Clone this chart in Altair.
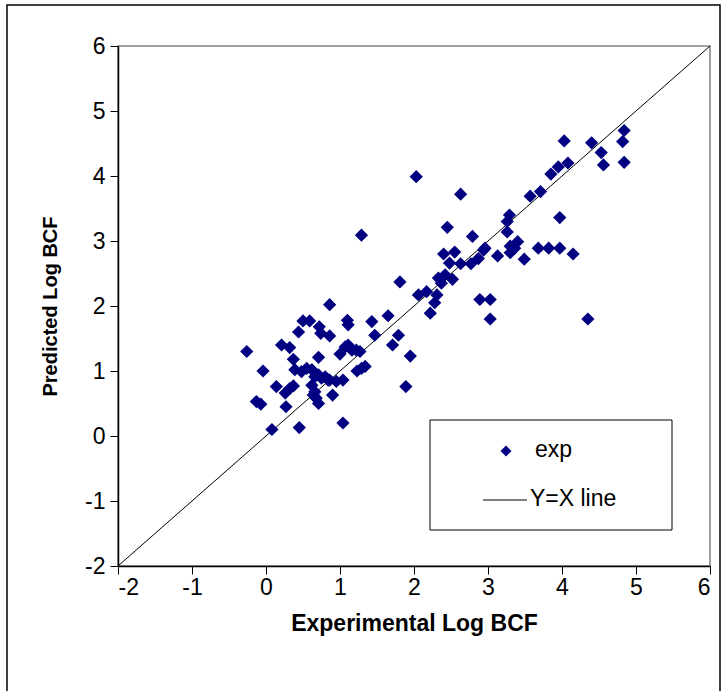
import altair as alt
import pandas as pd

# Experimental vs predicted log BCF
exp_x = [-0.26, -0.04, -0.13, -0.07, 0.08, 0.14, 0.21, 0.32, 0.26, 0.32, 0.37, 0.27, 0.37, 0.44,
         0.45, 0.50, 0.59, 0.39, 0.48, 0.55, 0.62, 0.66, 0.71, 0.75, 0.80, 0.84, 0.86, 0.62,
         0.66, 0.64, 0.68, 0.71, 0.71, 0.72, 0.74, 0.86, 0.86, 0.90, 0.95, 1.04, 1.00, 1.07,
         1.11, 1.16, 1.22, 1.27, 1.04, 1.10, 1.11, 1.23, 1.29, 1.34, 1.43, 1.47, 1.65, 1.71,
         1.79, 1.89, 1.95, 1.81, 2.06, 2.17, 2.22, 1.29,
         2.03, 2.63, 2.45, 2.79, 2.40, 2.55, 2.48, 2.63, 2.33, 2.42, 2.37, 2.52, 2.31, 2.28,
         2.77, 2.87, 2.94, 2.96, 2.89, 3.03, 3.03, 3.13, 3.26, 3.26, 3.29, 3.30, 3.30, 3.36,
         3.40, 3.49, 3.57, 3.71, 3.68, 3.82, 3.97, 4.15, 3.97, 3.85, 3.95, 4.08, 4.03, 4.40,
         4.53, 4.56, 4.84, 4.82, 4.84, 4.35]
pred_y = [1.30, 1.00, 0.53, 0.49, 0.10, 0.76, 1.40, 1.36, 0.66, 0.73, 0.77, 0.45, 1.18, 1.60,
          0.13, 1.77, 1.77, 1.02, 0.99, 1.04, 1.02, 0.91, 0.94, 0.89, 0.91, 0.86, 0.86, 0.78,
          0.68, 0.63, 0.58, 0.50, 1.21, 1.68, 1.58, 1.54, 2.02, 0.63, 0.84, 0.86, 1.26, 1.37,
          1.40, 1.32, 1.32, 1.30, 0.20, 1.78, 1.71, 1.00, 1.04, 1.07, 1.76, 1.55, 1.85, 1.40,
          1.55, 0.76, 1.23, 2.37, 2.17, 2.22, 1.89, 3.09,
          3.99, 3.72, 3.21, 3.07, 2.80, 2.83, 2.66, 2.65, 2.43, 2.48, 2.35, 2.41, 2.17, 2.05,
          2.65, 2.73, 2.86, 2.89, 2.10, 2.10, 1.80, 2.77, 3.14, 3.30, 3.40, 2.92, 2.82, 2.89,
          2.99, 2.72, 3.69, 3.76, 2.89, 2.89, 2.89, 2.80, 3.36, 4.03, 4.14, 4.20, 4.54, 4.51,
          4.36, 4.17, 4.70, 4.53, 4.21, 1.80]

line_x = [-2, 6]
line_y = [-2, 6]
axis_ticks = [-2, -1, 0, 1, 2, 3, 4, 5, 6]
legend_labels = ["exp", "Y=X line"]
x_title = "Experimental Log BCF"
y_title = "Predicted Log BCF"

FONT = "Liberation Sans"
NAVY = "#000080"

pts = pd.DataFrame({"x": exp_x, "y": pred_y})
line_df = pd.DataFrame({"x": line_x, "y": line_y})
dummy = pd.DataFrame({"a": [0]})

xscale = alt.Scale(domain=[-2, 6], nice=False, zero=False)
yscale = alt.Scale(domain=[-2, 6], nice=False, zero=False)

x_axis = alt.Axis(values=axis_ticks, title=x_title, grid=False, tickSize=8,
                  labelPadding=2, titlePadding=13, domainColor="#000000",
                  tickColor="#000000", domainWidth=1.5, tickWidth=1,
                  labelExpr="datum.value + ''", titleFontSize=23)
y_axis = alt.Axis(values=axis_ticks, title=y_title, grid=False, tickSize=8,
                  labelPadding=5, titlePadding=24, domainColor="#000000",
                  tickColor="#000000", domainWidth=1.5, tickWidth=1,
                  labelExpr="datum.value + ''", titleFontSize=20)

diag = alt.Chart(line_df).mark_line(color="#000000", strokeWidth=1, clip=True).encode(
    x=alt.X("x:Q", scale=xscale, axis=x_axis),
    y=alt.Y("y:Q", scale=yscale, axis=y_axis),
)

points = alt.Chart(pts).mark_point(shape="diamond", filled=True, size=175,
                                   color=NAVY, opacity=1).encode(
    x=alt.X("x:Q", scale=xscale),
    y=alt.Y("y:Q", scale=yscale),
)

outer = alt.Chart(dummy).mark_rect(fill=None, stroke="#000000", strokeWidth=1.5).encode(
    x=alt.value(-111), x2=alt.value(602), y=alt.value(-41), y2=alt.value(652)
)

leg_box = alt.Chart(dummy).mark_rect(fill="#ffffff", stroke="#000000", strokeWidth=1).encode(
    x=alt.value(312), x2=alt.value(554), y=alt.value(374), y2=alt.value(484)
)
leg_pt = alt.Chart(dummy).mark_point(shape="diamond", filled=True, size=120, color=NAVY,
                                     opacity=1).encode(x=alt.value(388), y=alt.value(405))
leg_line = alt.Chart(dummy).mark_rule(color="#000000", strokeWidth=1).encode(
    x=alt.value(365), x2=alt.value(409), y=alt.value(454)
)
leg_t1 = alt.Chart(dummy).mark_text(text=legend_labels[0], align="left", baseline="middle",
                                    font=FONT, fontSize=23, color="#000000").encode(
    x=alt.value(417), y=alt.value(404))
leg_t2 = alt.Chart(dummy).mark_text(text=legend_labels[1], align="left", baseline="middle",
                                    font=FONT, fontSize=23, color="#000000").encode(
    x=alt.value(412), y=alt.value(453))

chart = alt.layer(diag, points, leg_box, leg_pt, leg_line, leg_t1, leg_t2, outer).properties(
    width=592, height=520,
    autosize=alt.AutoSizeParams(type="none"),
    padding={"left": 118, "top": 46, "right": 18, "bottom": 125},
    background="#ffffff",
).configure_view(
    stroke="#808080", strokeWidth=1.5
).configure_axis(
    labelFont=FONT, labelFontSize=23, labelColor="#000000",
    titleFont=FONT, titleFontWeight="bold", titleColor="#000000",
)

chart.save("out.html", embed_options={"renderer": "svg", "actions": False})
